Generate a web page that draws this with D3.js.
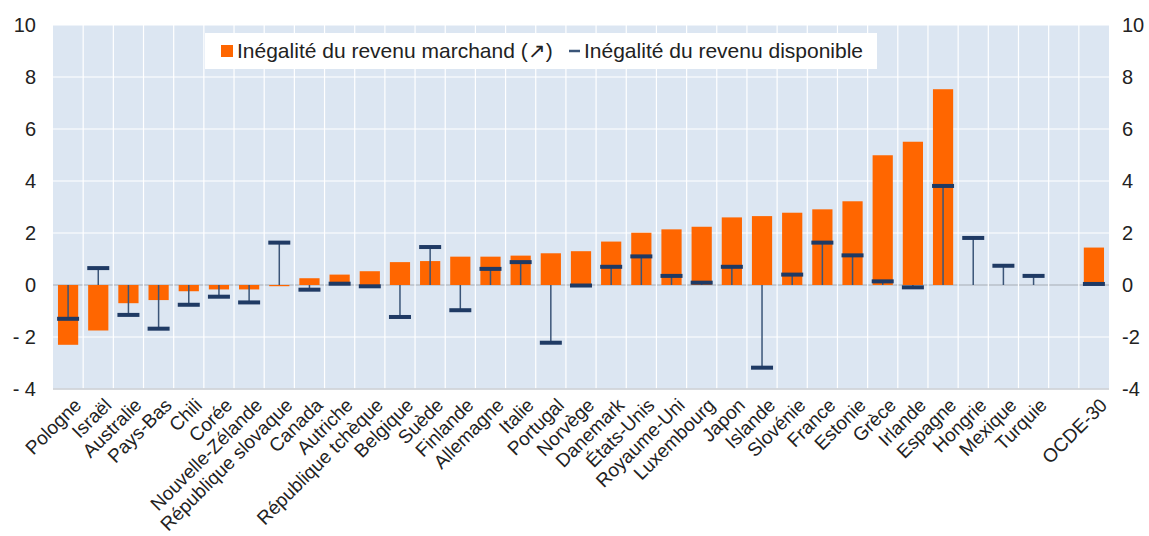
<!DOCTYPE html>
<html lang="fr">
<head>
<meta charset="utf-8">
<title>Inégalité du revenu</title>
<script src="https://d3js.org/d3.v7.min.js"></script>
<style>
  body { margin: 0; background: #fff; font-family: "Liberation Sans", Arial, sans-serif; }
  svg text { fill: #222; }
</style>
</head>
<body>
<script>
// categories (empty slot before OCDE-30)
var pays = ["Pologne", "Israël", "Australie", "Pays-Bas", "Chili", "Corée", "Nouvelle-Zélande",
  "République slovaque", "Canada", "Autriche", "République tchèque", "Belgique", "Suède",
  "Finlande", "Allemagne", "Italie", "Portugal", "Norvège", "Danemark", "États-Unis",
  "Royaume-Uni", "Luxembourg", "Japon", "Islande", "Slovénie", "France", "Estonie", "Grèce",
  "Irlande", "Espagne", "Hongrie", "Mexique", "Turquie", "", "OCDE-30"];

// inégalité du revenu marchand (bars)
var marchand = [-2.3, -1.75, -0.7, -0.58, -0.24, -0.17, -0.17, -0.02, 0.26, 0.4, 0.53, 0.88, 0.92,
  1.09, 1.09, 1.13, 1.22, 1.3, 1.67, 2.01, 2.14, 2.24, 2.6, 2.65, 2.78, 2.91, 3.22, 4.99,
  5.51, 7.53, null, null, null, null, 1.44];

// inégalité du revenu disponible (markers)
var disponible = [-1.3, 0.65, -1.15, -1.68, -0.76, -0.45, -0.67, 1.63, -0.18, 0.05, -0.05, -1.23, 1.46,
  -0.97, 0.62, 0.88, -2.22, -0.02, 0.7, 1.1, 0.35, 0.09, 0.7, -3.18, 0.4, 1.63, 1.14, 0.14,
  -0.09, 3.81, 1.81, 0.74, 0.35, null, 0.04];

var yTicks = [-4, -2, 0, 2, 4, 6, 8, 10];

var width = 1149, height = 536;
var margin = { top: 25, right: 40, bottom: 147, left: 53 };

var svg = d3.select("body").append("svg")
  .attr("width", width)
  .attr("height", height);

var x = d3.scaleBand()
  .domain(d3.range(pays.length))
  .range([margin.left, width - margin.right])
  .paddingInner(0.33)
  .paddingOuter(0.165);

var y = d3.scaleLinear()
  .domain([-4, 10])
  .range([height - margin.bottom, margin.top]);

var step = x.step();
var x0 = margin.left, x1 = width - margin.right;

// plot background
svg.append("rect")
  .attr("x", x0).attr("y", y(10))
  .attr("width", x1 - x0).attr("height", y(-4) - y(10))
  .attr("fill", "#dce6f2");

// grid
var grid = svg.append("g");
grid.selectAll("line.h")
  .data(yTicks)
  .enter().append("line")
  .attr("x1", x0).attr("x2", x1)
  .attr("y1", function(d) { return y(d); })
  .attr("y2", function(d) { return y(d); })
  .attr("stroke", function(d) { return d === 0 ? "#b8bfc8" : "#fff"; })
  .attr("stroke-width", function(d) { return d === 0 ? 1.5 : 1.2; });

grid.selectAll("line.v")
  .data(d3.range(1, pays.length))
  .enter().append("line")
  .attr("x1", function(i) { return x0 + i * step; })
  .attr("x2", function(i) { return x0 + i * step; })
  .attr("y1", y(10)).attr("y2", y(-4))
  .attr("stroke", "#fff")
  .attr("stroke-width", 1.2);

// bottom border
svg.append("line")
  .attr("x1", x0).attr("x2", x1)
  .attr("y1", y(-4)).attr("y2", y(-4))
  .attr("stroke", "#c8ccd2").attr("stroke-width", 1.5);

// bars
var bars = svg.append("g");
marchand.forEach(function(v, i) {
  if (v === null) return;
  bars.append("rect")
    .attr("x", x(i))
    .attr("width", x.bandwidth())
    .attr("y", Math.min(y(v), y(0)))
    .attr("height", Math.max(Math.abs(y(v) - y(0)), 1.2))
    .attr("fill", "#ff6600");
});

// disponible: stem + dash
var marks = svg.append("g");
disponible.forEach(function(v, i) {
  if (v === null) return;
  var cx = x(i) + x.bandwidth() / 2;
  marks.append("line")
    .attr("x1", cx).attr("x2", cx)
    .attr("y1", y(0)).attr("y2", y(v))
    .attr("stroke", "#3b5578").attr("stroke-width", 1.5);
  marks.append("rect")
    .attr("x", cx - 11).attr("width", 22)
    .attr("y", y(v) - 2).attr("height", 4)
    .attr("fill", "#1f3a64");
});

// y axes labels
var yl = svg.append("g").attr("font-size", 20);
yTicks.forEach(function(t) {
  yl.append("text")
    .attr("x", 36).attr("y", y(t)).attr("dy", "0.35em")
    .attr("text-anchor", "end")
    .text(t < 0 ? "- " + Math.abs(t) : t);
  yl.append("text")
    .attr("x", 1122).attr("y", y(t)).attr("dy", "0.35em")
    .attr("text-anchor", "start")
    .text(t);
});

// x labels
var xl = svg.append("g").attr("font-size", 19);
pays.forEach(function(p, i) {
  if (!p) return;
  var cx = x(i) + x.bandwidth() / 2 + 5;
  xl.append("text")
    .attr("transform", "translate(" + cx + "," + (y(-4) + 8) + ") rotate(-45)")
    .attr("text-anchor", "end")
    .attr("dy", "0.7em")
    .text(p);
});

// legend
var lg = svg.append("g");
lg.append("rect")
  .attr("x", 205).attr("y", 33).attr("width", 672).attr("height", 36)
  .attr("fill", "#fff");
lg.append("rect")
  .attr("x", 221).attr("y", 45).attr("width", 12).attr("height", 12)
  .attr("fill", "#ff6600");
lg.append("text")
  .attr("x", 237).attr("y", 51).attr("dy", "0.35em")
  .attr("font-size", 21)
  .text("Inégalité du revenu marchand (↗)");
lg.append("line")
  .attr("x1", 569).attr("x2", 580).attr("y1", 51).attr("y2", 51)
  .attr("stroke", "#3b5578").attr("stroke-width", 2.5);
lg.append("text")
  .attr("x", 584).attr("y", 51).attr("dy", "0.35em")
  .attr("font-size", 21)
  .text("Inégalité du revenu disponible");
</script>
</body>
</html>
